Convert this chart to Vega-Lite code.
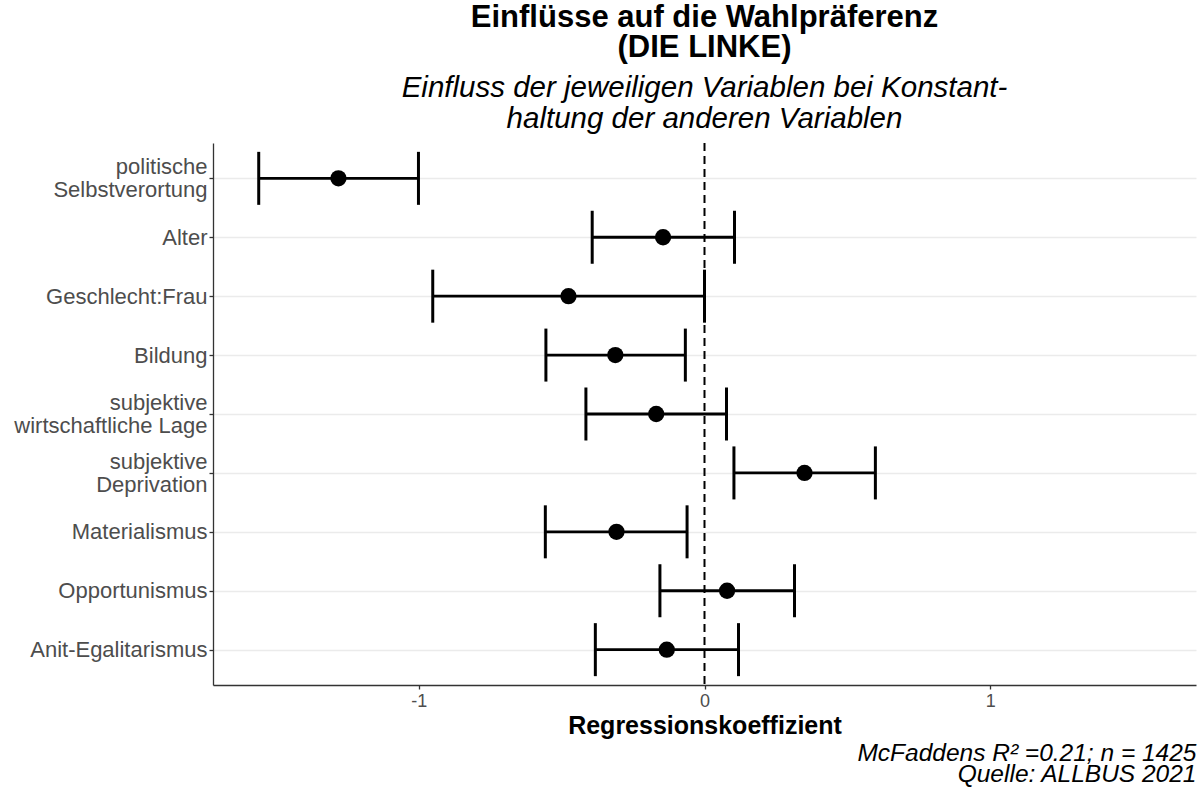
{
  "$schema": "https://vega.github.io/schema/vega-lite/v6.json",
  "width": 983,
  "height": 542,
  "autosize": {"type": "none"},
  "padding": {"left": 213, "top": 143, "right": 4, "bottom": 115},
  "background": "white",
  "config": {"font": "Liberation Sans", "view": {"stroke": null}},
  "title": {
    "text": ["Einflüsse auf die Wahlpräferenz", "(DIE LINKE)"],
    "subtitle": ["Einfluss der jeweiligen Variablen bei Konstant-", "haltung der anderen Variablen"],
    "anchor": "middle",
    "frame": "group",
    "fontSize": 31,
    "fontWeight": "bold",
    "color": "black",
    "lineHeight": 30,
    "subtitleFontSize": 29.5,
    "subtitleFontStyle": "italic",
    "subtitleColor": "black",
    "subtitleLineHeight": 31,
    "subtitlePadding": 10,
    "offset": 8
  },
  "layer": [
    {
      "data": {"values": [
        {"var": "politische\nSelbstverortung", "coef": -1.281, "lower": -1.560, "upper": -1.001},
        {"var": "Alter", "coef": -0.145, "lower": -0.393, "upper": 0.105},
        {"var": "Geschlecht:Frau", "coef": -0.476, "lower": -0.951, "upper": 0.000},
        {"var": "Bildung", "coef": -0.312, "lower": -0.555, "upper": -0.067},
        {"var": "subjektive\nwirtschaftliche Lage", "coef": -0.169, "lower": -0.415, "upper": 0.077},
        {"var": "subjektive\nDeprivation", "coef": 0.350, "lower": 0.103, "upper": 0.598},
        {"var": "Materialismus", "coef": -0.308, "lower": -0.557, "upper": -0.061},
        {"var": "Opportunismus", "coef": 0.079, "lower": -0.156, "upper": 0.315},
        {"var": "Anit-Egalitarismus", "coef": -0.132, "lower": -0.382, "upper": 0.119}
      ]},
      "encoding": {
        "y": {
          "field": "var",
          "type": "nominal",
          "sort": null,
          "scale": {"type": "point", "padding": 0.6},
          "axis": {
            "title": null,
            "labelExpr": "split(datum.label, '\\n')",
            "labelFontSize": 22,
            "labelColor": "#4d4d4d",
            "labelLineHeight": 23,
            "labelLimit": 400,
            "labelOffset": {"condition": {"test": "indexof(datum.label, '\\n') >= 0", "value": -11.5}, "value": 0},
            "labelPadding": 2,
            "tickSize": 4,
            "tickColor": "#333333",
            "tickWidth": 1.3,
            "domainColor": "#333333",
            "domainWidth": 1.3,
            "grid": true,
            "gridColor": "#ebebeb",
            "gridWidth": 1.4
          }
        }
      },
      "layer": [
        {
          "mark": {"type": "rule", "color": "black", "strokeWidth": 2.8},
          "encoding": {
            "x": {
              "field": "lower",
              "type": "quantitative",
              "scale": {"domain": [-1.72, 1.72], "nice": false, "zero": false},
              "axis": {
                "orient": "bottom",
                "title": "Regressionskoeffizient",
                "titleFontSize": 25,
                "titleFontWeight": "bold",
                "titleColor": "black",
                "titlePadding": 3,
                "values": [-1, 0, 1],
                "labelExpr": "'' + datum.value",
                "labelFontSize": 18,
                "labelColor": "#4d4d4d",
                "labelPadding": 3,
                "tickSize": 4,
                "tickColor": "#333333",
                "tickWidth": 1.3,
                "domainColor": "#333333",
                "domainWidth": 1.3,
                "grid": false
              }
            },
            "x2": {"field": "upper"}
          }
        },
        {
          "mark": {"type": "tick", "orient": "vertical", "size": 53, "thickness": 3, "color": "black", "opacity": 1},
          "encoding": {"x": {"field": "lower", "type": "quantitative"}}
        },
        {
          "mark": {"type": "tick", "orient": "vertical", "size": 53, "thickness": 3, "color": "black", "opacity": 1},
          "encoding": {"x": {"field": "upper", "type": "quantitative"}}
        },
        {
          "mark": {"type": "circle", "size": 265, "color": "black", "opacity": 1},
          "encoding": {"x": {"field": "coef", "type": "quantitative"}}
        }
      ]
    },
    {
      "data": {"values": [{"ref": "Null"}]},
      "mark": {"type": "rule", "color": "black", "strokeWidth": 2, "strokeDash": [8, 5]},
      "encoding": {
        "x": {
          "datum": 0,
          "type": "quantitative",
          "scale": {"domain": [-1.72, 1.72], "nice": false, "zero": false},
          "axis": {
            "orient": "bottom",
            "title": ["McFaddens R² =0.21; n = 1425", "Quelle: ALLBUS 2021"],
            "titleAnchor": "end",
            "titleAlign": "right",
            "titleFontSize": 24.5,
            "titleFontStyle": "italic",
            "titleFontWeight": "normal",
            "titleColor": "black",
            "titleLineHeight": 21,
            "titlePadding": 56,
            "labels": false,
            "ticks": false,
            "domain": false,
            "grid": false
          }
        }
      }
    }
  ],
  "resolve": {"scale": {"x": "independent"}}
}
